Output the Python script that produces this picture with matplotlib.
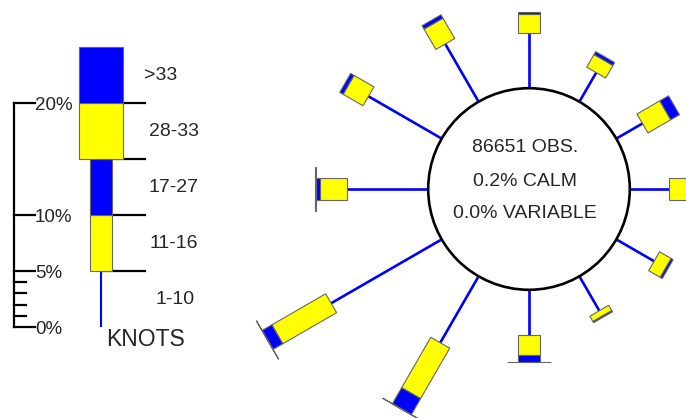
import numpy as np
import matplotlib
matplotlib.use("Agg")
import matplotlib.pyplot as plt
from matplotlib.patches import Polygon, Circle

plt.rcParams['font.family'] = ['Liberation Sans', 'DejaVu Sans']

# ---- data: percent of observations per direction and speed class ----
directions = [0, 30, 60, 90, 120, 150, 180, 210, 240, 270, 300, 330]
knots_1_10 = [4.9, 3.0, 2.7, 3.5, 3.9, 3.55, 4.05, 6.85, 11.4, 7.25, 7.55, 5.95]
knots_11_16 = [1.7, 1.3, 2.35, 2.3, 1.2, 0.55, 1.8, 5.2, 5.55, 2.45, 2.05, 2.1]
knots_17_27 = [0.2, 0.3, 0.9, 0.3, 0.2, 0.12, 0.6, 1.65, 1.0, 0.35, 0.35, 0.35]
knots_28_33 = [0, 0, 0, 0, 0, 0, 0.02, 0.02, 0.02, 0.02, 0, 0]
knots_gt33 = [0, 0, 0, 0, 0, 0, 0, 0, 0, 0, 0, 0]

obs_count = 86651
calm_pct = 0.2
variable_pct = 0.0

speed_labels = ["1-10", "11-16", "17-27", "28-33", ">33"]
legend_step = [5, 5, 5, 5, 5]
scale_major = [0, 5, 10, 20]
scale_minor = [1, 2, 3, 4]

# ---- styling ----
BLUE = "#0000FF"
YELLOW = "#FFFF00"
EDGE = "#666666"
TEXT = "#262626"
NARROW = 1.95     # width of 11-16 / 17-27 boxes, in % units
WIDE = 3.95       # width of 28-33 / >33 boxes
seg_colors = [None, YELLOW, BLUE, YELLOW, BLUE]
seg_widths = [0, NARROW, NARROW, WIDE, WIDE]

PX = 11.2         # pixels per percent
W, H = 686, 418
fig = plt.figure(figsize=(W / 100, H / 100), dpi=100)
ax = fig.add_axes([0, 0, 1, 1])
ax.set_xlim(0, W / PX)
ax.set_ylim(0, H / PX)
ax.set_aspect('equal')
ax.axis('off')


def rect(x0, y0, ux, uy, r0, r1, width):
    """Rectangle along unit direction (ux, uy) from r0 to r1."""
    vx, vy = uy, -ux
    h = width / 2
    pts = [(x0 + ux * r0 + vx * h, y0 + uy * r0 + vy * h),
           (x0 + ux * r1 + vx * h, y0 + uy * r1 + vy * h),
           (x0 + ux * r1 - vx * h, y0 + uy * r1 - vy * h),
           (x0 + ux * r0 - vx * h, y0 + uy * r0 - vy * h)]
    return pts


# ---- wind rose ----
cx, cy = 529 / PX, (H - 189) / PX
R = 9.0
ax.add_patch(Circle((cx, cy), R, facecolor='white', edgecolor='black', lw=1.9, zorder=3))

for d, a, b, c, e, f in zip(directions, knots_1_10, knots_11_16, knots_17_27,
                            knots_28_33, knots_gt33):
    t = np.deg2rad(d)
    ux, uy = np.sin(t), np.cos(t)
    r = R
    ax.plot([cx + ux * r, cx + ux * (r + a)], [cy + uy * r, cy + uy * (r + a)],
            color=BLUE, lw=1.9, solid_capstyle='butt', zorder=2)
    r += a
    for val, col, wd in zip([b, c, e, f], seg_colors[1:], seg_widths[1:]):
        if val <= 0:
            continue
        fc = col if val > 0.05 else 'none'
        ax.add_patch(Polygon(rect(cx, cy, ux, uy, r, r + val, wd), closed=True,
                             facecolor=fc, edgecolor=EDGE, lw=0.8, zorder=4))
        r += val

ax.text(cx - 0.35, (H - 148) / PX, f"{obs_count} OBS.", ha='center', va='center',
        fontsize=14, color=TEXT, zorder=5)
ax.text(cx - 0.35, (H - 182) / PX, f"{calm_pct:.1f}% CALM", ha='center', va='center',
        fontsize=14, color=TEXT, zorder=5)
ax.text(cx - 0.35, (H - 214) / PX, f"{variable_pct:.1f}% VARIABLE", ha='center',
        va='center', fontsize=14, color=TEXT, zorder=5)

# ---- speed legend ----
lx, ly = 100.7 / PX, (H - 327) / PX
tick_end = 145 / PX
bounds = np.cumsum([0] + legend_step)
ax.plot([lx, lx], [ly + bounds[0], ly + bounds[1]], color=BLUE, lw=1.5,
        solid_capstyle='butt', zorder=2)
for i in range(1, len(legend_step)):
    ax.add_patch(Polygon(rect(lx, ly, 0, 1, bounds[i], bounds[i + 1], seg_widths[i]),
                         closed=True, facecolor=seg_colors[i], edgecolor=EDGE,
                         lw=0.8, zorder=4))
for bnd in bounds[1:-1]:
    ax.plot([lx, tick_end], [ly + bnd, ly + bnd], color='black', lw=1.6, zorder=3)

label_dx = [0.1, 0, 0, 0, -1.2]
for i, lab in enumerate(speed_labels):
    ymid = ly + (bounds[i] + bounds[i + 1]) / 2
    ax.text(174 / PX + label_dx[i], ymid, lab, ha='center', va='center',
            fontsize=14, color=TEXT)
ax.text(106 / PX, ly - 0.05, "KNOTS", ha='left', va='top', fontsize=16.5, color=TEXT)

# ---- percent scale ----
sx = 13.5 / PX
ax.plot([sx, sx], [ly + scale_major[0], ly + scale_major[-1]], color='black', lw=1.6)
for p in scale_major:
    ax.plot([sx, 35 / PX], [ly + p, ly + p], color='black', lw=1.6)
    ax.text(35 / PX, ly + p - 0.25, f"{p}%", ha='left', va='center',
            fontsize=13.5, color=TEXT)
for p in scale_minor:
    ax.plot([sx, 26 / PX], [ly + p, ly + p], color='black', lw=1.6)

fig.savefig("out.png", dpi=100)
